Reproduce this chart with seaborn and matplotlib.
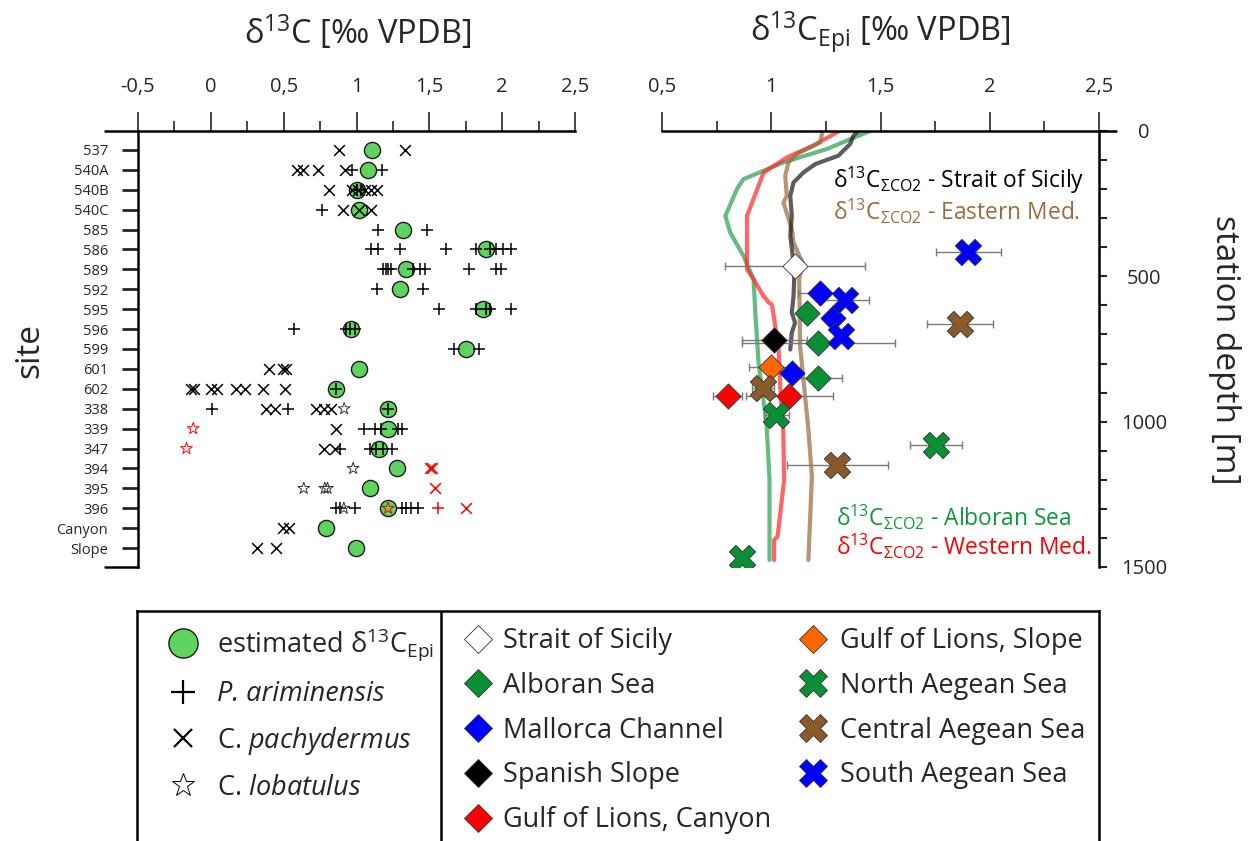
import matplotlib
matplotlib.use("Agg")
import matplotlib.pyplot as plt
from matplotlib.lines import Line2D
import pandas as pd
import seaborn as sns

# ---- left panel: site data (delta13C, permil VPDB) ----
sites = ["537", "540A", "540B", "540C", "585", "586", "589", "592", "595", "596",
         "599", "601", "602", "338", "339", "347", "394", "395", "396", "Canyon", "Slope"]
estimated_epi = [1.107, 1.078, 1.0, 1.016, 1.32, 1.892, 1.343, 1.297, 1.865, 0.959,
                 1.755, 1.018, 0.862, 1.217, 1.217, 1.155, 1.279, 1.091, 1.217, 0.794, 0.995]

p_arim = {
    "540A": [0.97, 1.178],
    "540B": [1.0, 1.03],
    "540C": [0.76],
    "585": [1.148, 1.487],
    "586": [1.10, 1.148, 1.297, 1.613, 1.823, 1.915, 1.961, 2.006, 2.064],
    "589": [1.183, 1.20, 1.217, 1.24, 1.388, 1.434, 1.473, 1.773, 1.961, 1.995],
    "592": [1.14, 1.457],
    "595": [1.567, 1.819, 1.892, 1.915, 2.064],
    "596": [0.572, 0.931, 0.954, 0.988],
    "599": [1.67, 1.842],
    "602": [0.862],
    "338": [0.011, 0.531, 1.217],
    "339": [1.05, 1.126, 1.171, 1.286, 1.309],
    "347": [0.885, 1.091, 1.133, 1.183, 1.247],
    "396": [0.858, 0.89, 0.988, 1.309, 1.343, 1.377, 1.423],
}
c_pachy = {
    "537": [0.88, 1.336],
    "540A": [0.59, 0.63, 0.737, 0.924],
    "540B": [0.812, 0.97, 1.01, 1.06, 1.10, 1.14],
    "540C": [0.91, 1.016, 1.10],
    "601": [0.40, 0.497, 0.515],
    "602": [-0.137, -0.114, 0.0, 0.039, 0.176, 0.233, 0.355, 0.51],
    "338": [0.377, 0.439, 0.72, 0.776, 0.828],
    "339": [0.858],
    "347": [0.778, 0.851],
    "Canyon": [0.492, 0.537],
    "Slope": [0.32, 0.446],
}
c_lob = {
    "338": [0.915],
    "394": [0.977],
    "395": [0.638, 0.782, 0.801],
    "396": [0.913],
}
# red symbols
p_arim_red = {"396": [1.56]}
c_pachy_red = {"394": [1.503, 1.521], "395": [1.537], "396": [1.755]}
c_lob_red = {"339": [-0.121], "347": [-0.167], "396": [1.217]}

x_ticks = [-0.5, 0, 0.5, 1, 1.5, 2, 2.5]
x_tick_labels = ["-0,5", "0", "0,5", "1", "1,5", "2", "2,5"]
x_ticks_r = [0.5, 1, 1.5, 2, 2.5]
x_tick_labels_r = ["0,5", "1", "1,5", "2", "2,5"]

# ---- right panel: water column profiles (delta13C_SumCO2 vs depth) ----
alboran_prof_x = [1.452, 1.254, 1.056, 0.872, 0.843, 0.79, 0.812, 0.873, 0.919, 0.927,
                  0.942, 0.972, 0.98, 0.992, 0.992]
alboran_prof_d = [0, 62, 108, 166, 200, 292, 349, 430, 510, 625, 797, 970, 1028, 1200, 1476]
western_prof_x = [1.307, 1.193, 1.071, 0.965, 0.889, 0.889, 0.919, 0.965, 0.99, 1.003,
                  1.033, 1.043, 1.055, 1.059, 1.029, 1.013, 1.013]
western_prof_d = [2, 50, 91, 143, 292, 476, 510, 568, 591, 597, 740, 913, 1028, 1200,
                  1395, 1407, 1476]
eastern_prof_x = [1.232, 1.224, 1.117, 1.079, 1.064, 1.071, 1.056, 1.094, 1.102, 1.129,
                  1.145, 1.128, 1.132, 1.155, 1.17, 1.186, 1.17]
eastern_prof_d = [10, 39, 79, 108, 154, 223, 246, 338, 384, 430, 453, 510, 740, 913,
                  1028, 1189, 1476]
sicily_prof_x = [1.399, 1.376, 1.361, 1.307, 1.201, 1.147, 1.102, 1.087, 1.094, 1.087,
                 1.102, 1.105, 1.102, 1.094, 1.109, 1.094, 1.087]
sicily_prof_d = [0, 16, 45, 85, 114, 143, 177, 223, 292, 361, 453, 510, 568, 625, 660,
                 694, 752]

# ---- right panel: station estimates (x, depth, x error) ----
sicily_x, sicily_d, sicily_err = [1.109], [464], [0.32]
alboran_x, alboran_d, alboran_err = [1.163, 1.216, 1.216], [625, 731, 849], [0, 0.35, 0.11]
mallorca_x, mallorca_d, mallorca_err = [1.221, 1.282, 1.094], [559, 642, 832], [0.1, 0, 0]
spanish_x, spanish_d, spanish_err = [1.014], [720], [0.15]
canyon_x, canyon_d, canyon_err = [0.80, 1.083], [910, 910], [0.065, 0.2]
lslope_x, lslope_d, lslope_err = [1.0], [811], [0.1]
naeg_x, naeg_d, naeg_err = [1.023, 1.754, 0.866], [976, 1079, 1470], [0.056, 0.12, 0]
caeg_x, caeg_d, caeg_err = [1.864, 0.962, 1.303], [663, 884, 1148], [0.15, 0.05, 0.23]
saeg_x, saeg_d, saeg_err = [1.902, 1.338, 1.318], [418, 582, 706], [0.15, 0.11, 0]

GREEN = "#0a8f35"
BROWN = "#8b5a2b"
BLUE = "#0000ff"
RED = "#ff0000"
ORANGE = "#ff6600"

sns.set_style("white")
plt.rcParams["font.family"] = ["Open Sans", "DejaVu Sans"]
plt.rcParams["mathtext.fontset"] = "custom"
plt.rcParams["mathtext.rm"] = "Open Sans"
plt.rcParams["mathtext.it"] = "Open Sans:italic"
plt.rcParams["mathtext.bf"] = "Open Sans:bold"

W, H = 1253, 841
fig = plt.figure(figsize=(W / 100, H / 100), dpi=100)
ax_l = fig.add_axes([138 / W, 1 - 567 / H, 437 / W, 436 / H])
ax_r = fig.add_axes([662 / W, 1 - 567 / H, 437 / W, 436 / H])

site_pos = {s: i for i, s in enumerate(sites)}


def to_frame(d):
    rows = [(s, v) for s, vals in d.items() for v in vals]
    df = pd.DataFrame(rows, columns=["site", "d13c"])
    df["row"] = df["site"].map(site_pos)
    return df


# ---- left panel ----
est = pd.DataFrame({"site": sites, "d13c": estimated_epi})
est["row"] = est["site"].map(site_pos)
sns.scatterplot(data=est, x="d13c", y="row", ax=ax_l, marker="o", s=135,
                color="#5fd35f", edgecolor="#1a1a1a", linewidth=1.0, zorder=3)
for d, mk, col, size, lw in [
    (p_arim, "+", "black", 85, 1.1),
    (c_pachy, "x", "black", 60, 1.1),
    (p_arim_red, "+", RED, 85, 1.1),
    (c_pachy_red, "x", RED, 60, 1.1),
]:
    sns.scatterplot(data=to_frame(d), x="d13c", y="row", ax=ax_l, marker=mk, s=size,
                    color=col, linewidth=lw, zorder=4)
for d, col in [(c_lob, "#333333"), (c_lob_red, RED)]:
    sns.scatterplot(data=to_frame(d), x="d13c", y="row", ax=ax_l, marker="*", s=80,
                    color=col, facecolor="none", edgecolor=col, linewidth=0.7, zorder=4)

ax_l.set_xlim(-0.5, 2.5)
ax_l.set_ylim(20.95, -0.95)
ax_l.xaxis.tick_top()
ax_l.set_xticks(x_ticks)
ax_l.set_xticklabels(x_tick_labels)
ax_l.set_xticks([-0.25, 0.25, 0.75, 1.25, 1.75, 2.25], minor=True)
ax_l.set_yticks(range(len(sites)))
ax_l.set_yticklabels(sites)
ax_l.tick_params(axis="x", which="major", direction="out", length=13.5, width=1.2,
                 pad=11, labelsize=14.5, top=True, bottom=False)
ax_l.tick_params(axis="x", which="minor", direction="out", length=7, width=1.2,
                 top=True, bottom=False)
ax_l.tick_params(axis="y", direction="out", length=11.5, width=2, pad=10,
                 labelsize=10.5, left=True)
ax_l.set_xlabel("")
ax_l.set_ylabel("")
for side in ["right", "bottom"]:
    ax_l.spines[side].set_visible(False)
for side in ["top", "left"]:
    ax_l.spines[side].set_linewidth(1.8)
    ax_l.spines[side].set_color("black")
ax_l.plot([-0.075, 0], [1, 1], transform=ax_l.transAxes, clip_on=False, color="black", lw=1.8)
ax_l.plot([-0.075, 0], [0, 0], transform=ax_l.transAxes, clip_on=False, color="black", lw=1.8)

# ---- right panel ----
for px, pd_, col in [(alboran_prof_x, alboran_prof_d, "#2aa24c"),
                     (western_prof_x, western_prof_d, "#ff2a2a"),
                     (eastern_prof_x, eastern_prof_d, "#9a6b3e"),
                     (sicily_prof_x, sicily_prof_d, "#1e1e1e")]:
    sns.lineplot(x=px, y=pd_, ax=ax_r, sort=False, estimator=None, color=col,
                 linewidth=3.0, alpha=0.72, zorder=2)

stations = [
    (sicily_x, sicily_d, sicily_err, "D", "white", 165),
    (alboran_x, alboran_d, alboran_err, "D", GREEN, 165),
    (mallorca_x, mallorca_d, mallorca_err, "D", BLUE, 165),
    (spanish_x, spanish_d, spanish_err, "D", "black", 165),
    (canyon_x, canyon_d, canyon_err, "D", RED, 165),
    (lslope_x, lslope_d, lslope_err, "D", ORANGE, 165),
    (naeg_x, naeg_d, naeg_err, "X", GREEN, 360),
    (caeg_x, caeg_d, caeg_err, "X", BROWN, 360),
    (saeg_x, saeg_d, saeg_err, "X", BLUE, 360),
]
for xs, ds, errs, mk, col, size in stations:
    ax_r.errorbar(xs, ds, xerr=errs, fmt="none", ecolor="#7a7a7a", elinewidth=1.0,
                  capsize=3.2, capthick=1.0, zorder=3)
for xs, ds, errs, mk, col, size in stations:
    sns.scatterplot(x=xs, y=ds, ax=ax_r, marker=mk, s=size, color=col,
                    edgecolor="#333333", linewidth=0.6, zorder=5)

ax_r.set_xlim(0.5, 2.5)
ax_r.set_ylim(1500, 0)
ax_r.xaxis.tick_top()
ax_r.yaxis.tick_right()
ax_r.set_xticks(x_ticks_r)
ax_r.set_xticklabels(x_tick_labels_r)
ax_r.set_xticks([0.75, 1.25, 1.75, 2.25], minor=True)
ax_r.set_yticks([0, 500, 1000, 1500])
ax_r.set_yticks(range(100, 1500, 100), minor=True)
ax_r.tick_params(axis="x", which="major", direction="out", length=13.5, width=1.2,
                 pad=11, labelsize=14.5, top=True, bottom=False)
ax_r.tick_params(axis="x", which="minor", direction="out", length=7, width=1.2,
                 top=True, bottom=False)
ax_r.tick_params(axis="y", which="both", direction="out", length=5.5, width=1.5,
                 pad=27, labelsize=14.5, right=True, left=False)
for lab in ax_r.get_yticklabels():
    lab.set_horizontalalignment("center")
ax_r.set_xlabel("")
ax_r.set_ylabel("")
for side in ["left", "bottom"]:
    ax_r.spines[side].set_visible(False)
for side in ["top", "right"]:
    ax_r.spines[side].set_linewidth(1.8)
    ax_r.spines[side].set_color("black")
ax_r.plot([1, 1.04], [1, 1], transform=ax_r.transAxes, clip_on=False, color="black", lw=1.8)

sub = r"δ$^{13}$C$_{\mathrm{ΣCO2}}$"
ax_r.text(1.283, 169, sub + " - Strait of Sicily", color="black", fontsize=16.4, va="center")
ax_r.text(1.283, 276, sub + " - Eastern Med.", color="#9c6b3c", fontsize=16.4, va="center")
ax_r.text(1.297, 1328, sub + " - Alboran Sea", color="#0a9a3a", fontsize=16.4, va="center")
ax_r.text(1.297, 1428, sub + " - Western Med.", color=RED, fontsize=16.4, va="center")

# ---- titles and axis labels ----
fig.text(358 / W, 1 - 32 / H, r"δ$^{13}$C [‰ VPDB]", fontsize=23.5, ha="center", va="center")
fig.text(880 / W, 1 - 32 / H, r"δ$^{13}$C$_{\mathrm{Epi}}$ [‰ VPDB]", fontsize=23.5,
         ha="center", va="center")
fig.text(30 / W, 1 - 350 / H, "site", fontsize=24, rotation=90, ha="center", va="center")
fig.text(1225 / W, 1 - 350 / H, "station depth [m]", fontsize=24, rotation=270,
         ha="center", va="center")

# ---- legend box ----
ax_g = fig.add_axes([137 / W, 0, 962 / W, 230 / H])
ax_g.set_xticks([])
ax_g.set_yticks([])
ax_g.spines["bottom"].set_visible(False)
for side in ["top", "left", "right"]:
    ax_g.spines[side].set_linewidth(1.8)
    ax_g.spines[side].set_color("black")
ax_g.axvline((441 - 137) / 962, color="black", lw=1.8)

h1 = [
    Line2D([], [], marker="o", ls="", ms=21, mfc="#5fd35f", mec="#1a1a1a", mew=1.0),
    Line2D([], [], marker="+", ls="", ms=17, color="black", mew=1.6),
    Line2D([], [], marker="x", ls="", ms=13, color="black", mew=1.6),
    Line2D([], [], marker="*", ls="", ms=17, mfc="white", mec="black", mew=0.7),
]
l1 = ["estimated δ$^{13}$C$_{\mathrm{Epi}}$", "P. ariminensis",
      r"C. $\mathit{pachydermus}$", r"C. $\mathit{lobatulus}$"]


def dia(col):
    return Line2D([], [], marker="D", ls="", ms=14, mfc=col, mec="#333333", mew=0.6)


def bigx(col):
    return Line2D([], [], marker="X", ls="", ms=20, mfc=col, mec="#333333", mew=0.6)


h2 = [dia("white"), dia(GREEN), dia(BLUE), dia("black"), dia(RED)]
l2 = ["Strait of Sicily", "Alboran Sea", "Mallorca Channel", "Spanish Slope",
      "Gulf of Lions, Canyon"]
h3 = [dia(ORANGE), bigx(GREEN), bigx(BROWN), bigx(BLUE)]
l3 = ["Gulf of Lions, Slope", "North Aegean Sea", "Central Aegean Sea", "South Aegean Sea"]

common = dict(frameon=False, loc="upper left", fontsize=19.5, borderpad=0, borderaxespad=0,
              handlelength=1.5, labelspacing=0.62)
leg1 = ax_g.legend(h1, l1, bbox_to_anchor=((163 - 137) / 962, 0.93), handletextpad=0.5,
                   **common)
leg1.get_texts()[1].set_fontstyle("italic")
ax_g.add_artist(leg1)
leg2 = ax_g.legend(h2, l2, bbox_to_anchor=((458 - 137) / 962, 0.93), handletextpad=0.17,
                   **common)
ax_g.add_artist(leg2)
ax_g.legend(h3, l3, bbox_to_anchor=((793 - 137) / 962, 0.93), handletextpad=0.25, **common)

fig.savefig("out.png", dpi=100)
